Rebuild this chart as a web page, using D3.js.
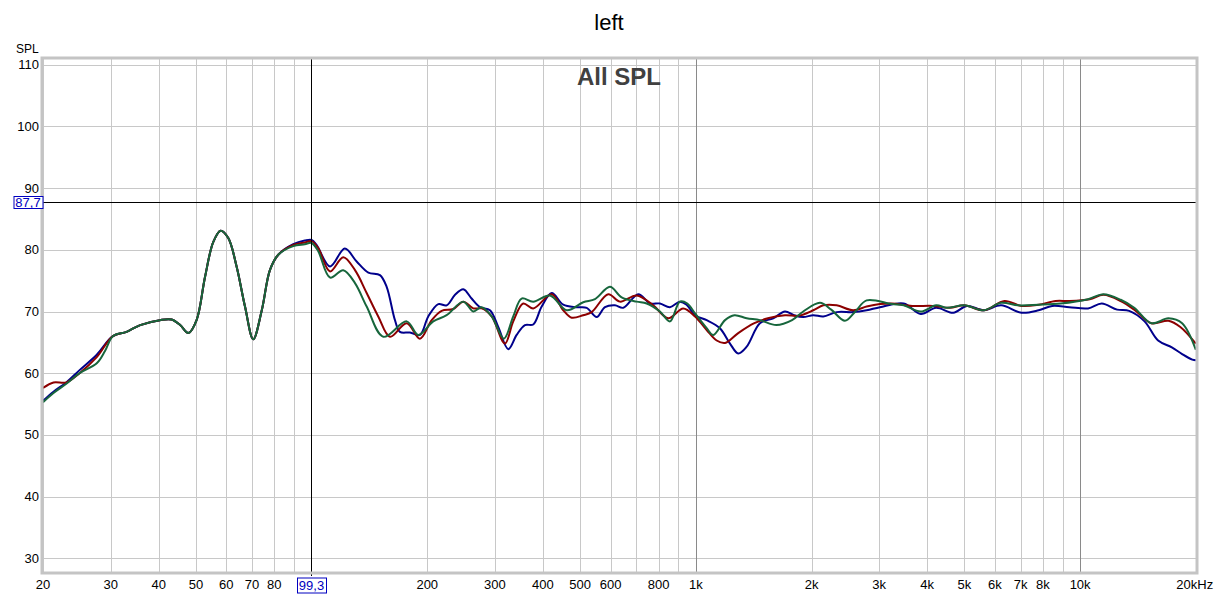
<!DOCTYPE html>
<html><head><meta charset="utf-8">
<script src="https://cdn.jsdelivr.net/npm/d3@7"></script>
<style>body{margin:0;background:#fff;} svg{display:block;font-family:"Liberation Sans",Arial,sans-serif;}</style>
</head><body>
<svg id="c" width="1217" height="596"></svg>
<script>
// ---- data ----
const yTicks = [30,40,50,60,70,80,90,100,110];
const xGrid = [20,30,40,50,60,70,80,90,100,200,300,400,500,600,700,800,900,1000,2000,3000,4000,5000,6000,7000,8000,9000,10000];
const xMajor = [100,1000,10000];
const xTickVals = [20,30,40,50,60,70,80,200,300,400,500,600,800,1000,2000,3000,4000,5000,6000,7000,8000,10000,20000];
const xTickLabels = ["20","30","40","50","60","70","80","200","300","400","500","600","800","1k","2k","3k","4k","5k","6k","7k","8k","10k","20kHz"];
const cursorFreq = 99.3, cursorFreqLabel = "99,3";
const cursorSPL = 87.7, cursorSPLLabel = "87,7";

const common = [[30.4,66.0],[33,66.7],[35.8,67.8],[40.3,68.6],[43.2,68.7],[45.5,67.8],[47.8,66.5],[50.2,68.6],[52.8,75.6],[55.5,81.3],[58,83.1],[60.7,81.9],[63.8,77.3],[67.1,70.8],[70.5,65.5],[74.2,70.2],[77.9,76.7],[81.9,79.2]];

const blueSPL = [[20,55.5],[21.3,57.0],[23.0,58.5],[24.9,60.5],[27.6,63.0]].concat(common).concat([
[89.6,80.9],[96,81.5],[100,81.6],[103,80.8],[111.7,77.3],[122,80.2],[131,78.1],[140.5,76.3],[150.6,75.9],[156.8,74.0],[164.8,68.6],[169.8,66.7],[180.3,66.6],[191.4,66.2],[201.2,69.2],[213.7,71.2],[224.6,71.0],[236.2,72.7],[248.2,73.6],[260.9,72.1],[274.3,70.7],[291.2,70.2],[306,67.5],[324.9,63.9],[341.7,66.2],[359.1,67.8],[377.4,67.9],[397,70.8],[421.5,73.0],[451.8,71.1],[489.5,70.7],[519.9,70.6],[552,69.1],[580,70.7],[615.8,71.0],[647.3,70.6],[708.2,72.8],[759.5,71.3],[806.2,71.3],[856.1,70.7],[909,71.6],[946,71.1],[995,69.4],[1067,68.6],[1155,67.3],[1227,64.8],[1289,63.2],[1356,64.3],[1468,68.1],[1590,68.9],[1706,70.0],[1800,69.4],[1903,69.1],[2021,69.4],[2146,69.2],[2325,69.9],[2568,69.9],[2782,70.2],[3013,70.7],[3474,71.3],[3848,69.6],[4220,70.6],[4676,69.8],[5072,70.9],[5620,70.2],[6227,71.0],[7038,69.8],[7797,70.2],[8458,70.9],[9374,70.7],[10488,70.5],[11386,71.3],[12484,70.3],[13414,70.1],[14712,68.4],[15958,65.3],[17324,64.2],[18426,63.1],[19586,62.2],[20000,62.1]]);

const redSPL = [[20,57.6],[21.3,58.5],[23.0,58.5],[24.9,60.0],[27.6,62.6]].concat(common).concat([
[89.6,80.8],[96,81.2],[100,81.4],[104,80.3],[111.7,76.5],[120.9,78.8],[129.7,76.7],[139.1,73.0],[149.1,69.2],[160,65.9],[176.8,68.1],[191.4,65.6],[205.4,68.6],[218,70.1],[233.8,70.4],[248.2,71.6],[263.5,70.5],[277.1,70.5],[294.2,69.2],[318.5,64.8],[334.8,68.4],[355.4,71.3],[377.4,70.5],[421.5,72.8],[451.8,70.2],[475.1,69.0],[509.3,69.4],[535.6,69.9],[591.6,72.8],[634.4,71.6],[701.4,72.6],[774.6,71.0],[847.5,68.9],[927,70.5],[995,69.2],[1067,67.0],[1133,65.3],[1191,64.9],[1289,66.5],[1420,68.1],[1540,68.9],[1706,69.4],[1850,69.3],[2021,70.2],[2146,71.0],[2325,71.0],[2568,70.2],[2782,70.8],[3013,71.2],[3235,71.3],[3656,70.9],[4136,70.9],[4582,70.6],[5000,71.0],[5620,70.2],[6355,71.7],[7038,70.9],[7797,71.1],[8638,71.7],[9374,71.7],[10596,72.0],[11504,72.7],[12750,71.7],[13830,70.3],[15324,68.1],[16974,68.5],[18230,67.5],[20000,64.8]]);

const greenSPL = [[20,55.3],[21.3,56.8],[23.0,58.3],[24.9,60.0],[27.6,61.6],[29,63.6]].concat(common).concat([
[89.6,80.6],[96,80.9],[100,81.1],[104,79.8],[111.7,75.5],[120.9,76.7],[129.7,74.6],[139.1,70.8],[153.7,65.9],[176.8,68.4],[189.5,66.2],[207.3,68.4],[224.6,69.4],[248.2,71.6],[263.5,70.0],[277.1,70.7],[294.2,69.2],[316.6,65.6],[334.8,69.2],[352,72.1],[377.4,71.6],[417.3,72.6],[461.1,70.2],[509.3,71.5],[546.4,72.0],[597.6,74.0],[641,72.3],[701.4,71.6],[744.6,71.3],[806.2,70.0],[856.1,68.4],[909,71.6],[950,71.3],[995,69.7],[1067,67.3],[1110,66.2],[1191,68.6],[1260,69.4],[1356,68.9],[1468,68.6],[1620,67.8],[1780,68.6],[1903,70.0],[2104,71.4],[2250,70.3],[2443,68.5],[2600,70.0],[2782,71.8],[3235,71.2],[3474,71.0],[3848,70.0],[4220,71.0],[4500,70.6],[5000,71.0],[5620,70.2],[6227,71.4],[6900,71.0],[7797,71.1],[8900,71.3],[10488,72.0],[11504,72.8],[12750,71.9],[13830,70.6],[15324,68.1],[16974,68.9],[18426,68.1],[20000,63.8]]);

const series = [
  {name:"blue", color:"#00008c", values: blueSPL},
  {name:"red", color:"#8c0000", values: redSPL},
  {name:"green", color:"#17663c", values: greenSPL}
];

// ---- layout ----
const svg = d3.select("#c");
const frame = {x0:42, x1:1197, y0:58, y1:573};
const x = d3.scaleLog().domain([20,20000]).range([43,1195.8]);
const y = d3.scaleLinear().domain([30,110]).range([558.3,64.7]);
const cursorX = Math.round(x(cursorFreq)) + 1.5;

svg.append("defs").append("clipPath").attr("id","clip")
  .append("rect").attr("x",frame.x0+1).attr("y",frame.y0+1)
  .attr("width",frame.x1-frame.x0-2).attr("height",frame.y1-frame.y0-2);

const g = svg.append("g");
// horizontal grid
g.selectAll("line.hg").data(yTicks).join("line")
  .attr("x1",frame.x0).attr("x2",frame.x1)
  .attr("y1",d=>Math.round(y(d))+0.5).attr("y2",d=>Math.round(y(d))+0.5)
  .attr("stroke","#c8c8c8").attr("stroke-width",1);
// vertical grid (the one hidden under the cursor is skipped)
g.selectAll("line.vg").data(xGrid.filter(d=>Math.abs(x(d)-cursorX)>2.5)).join("line")
  .attr("y1",frame.y0).attr("y2",frame.y1)
  .attr("x1",d=>Math.round(x(d))+0.5).attr("x2",d=>Math.round(x(d))+0.5)
  .attr("stroke",d=>xMajor.includes(d)?"#8a8a8a":"#c8c8c8").attr("stroke-width",1);

// curves
const line = d3.line().x(d=>x(d[0])).y(d=>y(d[1])).curve(d3.curveCatmullRom.alpha(0.5));
const cg = svg.append("g").attr("clip-path","url(#clip)");
cg.selectAll("path").data(series).join("path")
  .attr("d",d=>line(d.values)).attr("fill","none")
  .attr("stroke",d=>d.color).attr("stroke-width",2).attr("stroke-linejoin","round");

// cursor
svg.append("line").attr("x1",cursorX).attr("x2",cursorX)
  .attr("y1",frame.y0).attr("y2",frame.y1+3).attr("stroke","#000");
svg.append("line").attr("x1",frame.x0).attr("x2",frame.x1)
  .attr("y1",Math.round(y(cursorSPL))+0.5).attr("y2",Math.round(y(cursorSPL))+0.5).attr("stroke","#000");

// frame
svg.append("rect").attr("x",frame.x0).attr("y",frame.y0)
  .attr("width",frame.x1-frame.x0).attr("height",frame.y1-frame.y0)
  .attr("fill","none").attr("stroke","#c4c4c4").attr("stroke-width",3);

// y labels
svg.selectAll("text.yl").data(yTicks).join("text")
  .attr("x",39).attr("y",d=>y(d)).attr("dy","0.35em").attr("text-anchor","end")
  .attr("font-size",13).attr("fill","#000").text(d=>d);
svg.append("text").attr("x",16).attr("y",53).attr("font-size",12).text("SPL");

// x labels
svg.selectAll("text.xl").data(xTickVals).join("text")
  .attr("x",(d,i)=>x(d)+(i===xTickVals.length-1? -1:0)).attr("y",589).attr("text-anchor","middle")
  .attr("font-size",13).attr("fill","#000").text((d,i)=>xTickLabels[i]);

// cursor boxes
function box(cx, cy, w, h, label){
  svg.append("rect").attr("x",cx-w/2+0.5).attr("y",cy-h/2+0.5).attr("width",w).attr("height",h)
    .attr("fill","#fff").attr("stroke","#0000c0").attr("stroke-width",1);
  svg.append("text").attr("x",cx).attr("y",cy).attr("dy","0.36em").attr("text-anchor","middle")
    .attr("font-size",13).attr("fill","#0000c0").text(label);
}
box(cursorX, 585, 29, 15, cursorFreqLabel);
box(28, Math.round(y(cursorSPL)), 29, 12, cursorSPLLabel);

// titles
svg.append("text").attr("x",609).attr("y",30).attr("text-anchor","middle").attr("font-size",22).text("left");
svg.append("text").attr("x",619).attr("y",85).attr("text-anchor","middle").attr("font-size",24)
  .attr("font-weight","bold").attr("fill","#404040").text("All SPL");
</script>
</body></html>
